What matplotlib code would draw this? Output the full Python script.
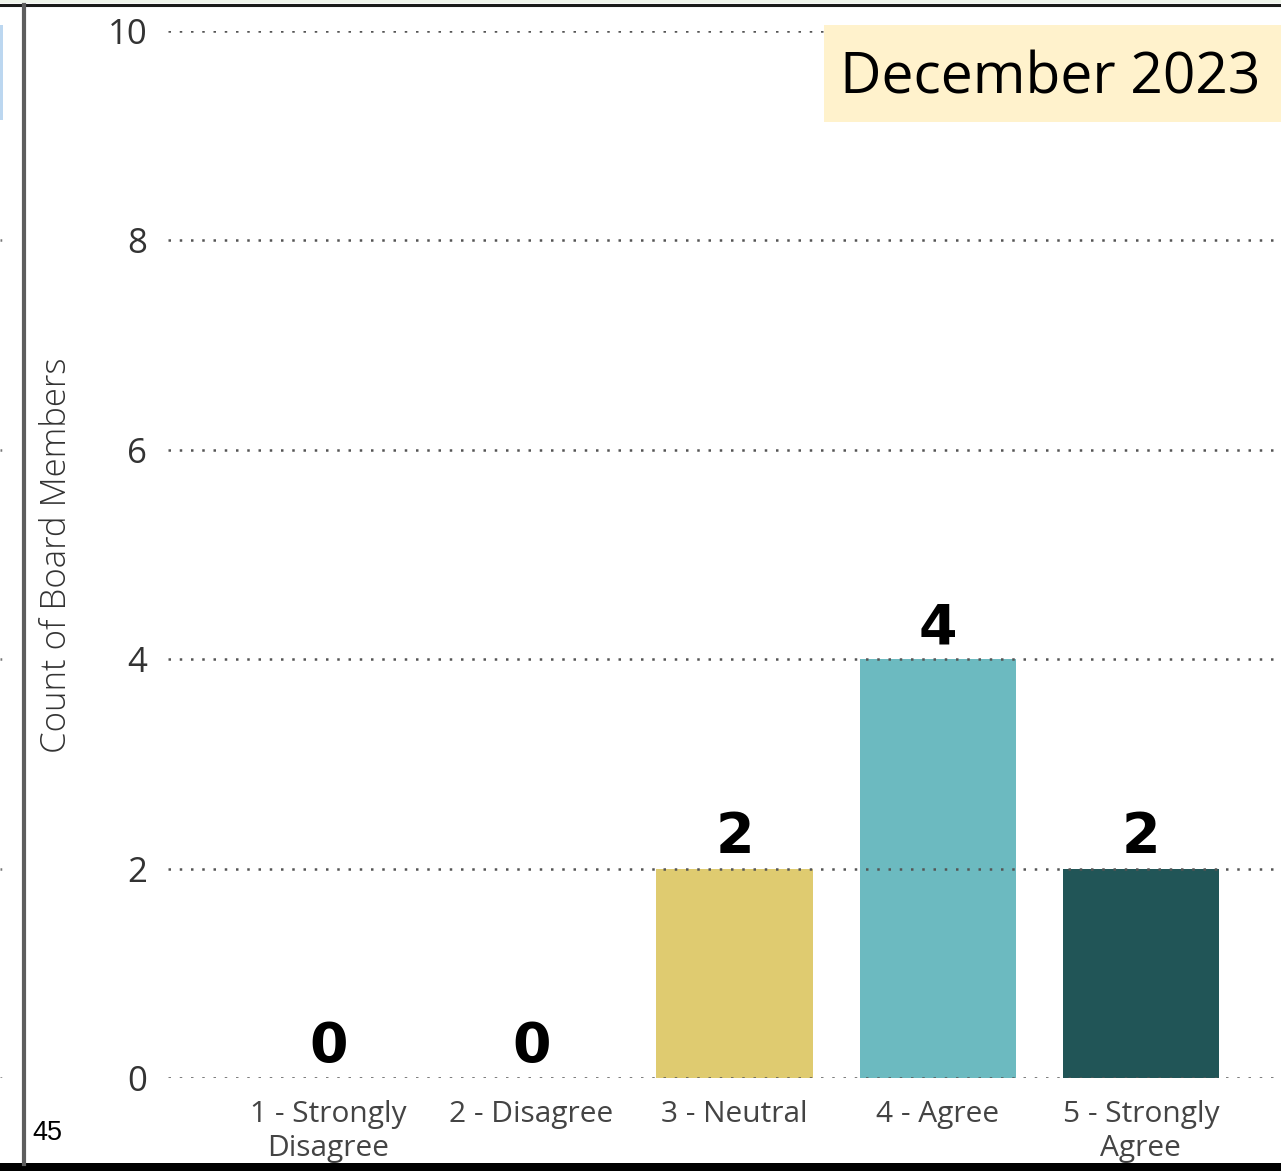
import matplotlib.pyplot as plt
from matplotlib.patches import Rectangle
from matplotlib.lines import Line2D

categories = ['1 - Strongly\nDisagree', '2 - Disagree', '3 - Neutral', '4 - Agree', '5 - Strongly\nAgree']
counts = [0, 0, 2, 4, 2]
bar_colors = ['#E66C37', '#A66999', '#DFCB70', '#6CBAC0', '#215557']
y_ticks = [0, 2, 4, 6, 8, 10]
period_label = 'December 2023'
page_number = '45'

W, H = 1281, 1171
fig = plt.figure(figsize=(W / 100, H / 100), dpi=100)

def fx(px):
    return px / W

def fy(py):
    return 1 - py / H

ax_bottom = fy(1078)
ax_height = fy(31) - fy(1078)
ax = fig.add_axes([fx(168), ax_bottom, 1 - fx(168), ax_height])

x = list(range(len(categories)))
ax.bar(x, counts, width=0.77, color=bar_colors, zorder=2)
ax.set_xlim(-0.79, 4.69)
ax.set_ylim(0, 10)
ax.set_yticks(y_ticks)
ax.set_yticklabels([str(t) for t in y_ticks], family='Open Sans', fontsize=25, color='#333333')
ax.set_xticks(x)
ax.set_xticklabels(categories, family='Open Sans', fontsize=21.5, color='#444444', linespacing=1.2)
ax.tick_params(axis='y', length=0, pad=15)
ax.tick_params(axis='x', length=0, pad=16)
for s in ax.spines.values():
    s.set_visible(False)
ax.grid(axis='y', color='#555555', linestyle=(0, (1, 3.5)), linewidth=1.8, zorder=3)
ax.set_axisbelow(False)

# value labels above each bar
for xi, v in zip(x, counts):
    ax.annotate(str(v), (xi, v), xytext=(0, 3), textcoords='offset points',
                ha='center', va='bottom', fontsize=40, fontweight='bold',
                family='DejaVu Sans', color='black', zorder=4)

fig.text(fx(57), fy(555), 'Count of Board Members', rotation=90, ha='center', va='center',
         family='Open Sans', fontweight='light', fontsize=25, color='#333333')

# leftover strip of the neighbouring chart
ax_left = fig.add_axes([0, ax_bottom, fx(10), ax_height])
ax_left.set_xlim(0, 1)
ax_left.set_ylim(0, 10)
ax_left.set_yticks(y_ticks)
ax_left.grid(axis='y', color='#777777', linestyle=(0.3, (1, 4)), linewidth=1.8)
ax_left.tick_params(length=0, labelleft=False, labelbottom=False)
for s in ax_left.spines.values():
    s.set_visible(False)
ax_left.patch.set_visible(False)
fig.patches.append(Rectangle((0, fy(120)), fx(3), fy(25) - fy(120), transform=fig.transFigure,
                             facecolor='#BCD7F0', edgecolor='none'))

# page frame
fig.patches.append(Rectangle((0, fy(3)), 1, fy(0) - fy(3), transform=fig.transFigure,
                             facecolor='#EEF4EA', edgecolor='none'))
fig.lines.append(Line2D([0, 1], [fy(5), fy(5)], transform=fig.transFigure, color='#1A1A1A', linewidth=2.2))
fig.lines.append(Line2D([fx(24), fx(24)], [fy(5), fy(1164)], transform=fig.transFigure, color='#5E5E5E', linewidth=3))
fig.patches.append(Rectangle((0, 0), 1, fy(1163), transform=fig.transFigure,
                             facecolor='black', edgecolor='none'))

# period tag
fig.patches.append(Rectangle((fx(824), fy(122)), 1 - fx(824), fy(25) - fy(122), transform=fig.transFigure,
                             facecolor='#FFF2CC', edgecolor='none'))
fig.text(fx(1050), fy(93), period_label, ha='center', va='baseline', family='Open Sans',
         fontsize=41, color='black')

fig.text(fx(32), fy(1140), page_number, ha='left', va='baseline', family='Liberation Sans',
         fontsize=19.5, color='black')

fig.savefig('out.png', dpi=100)
